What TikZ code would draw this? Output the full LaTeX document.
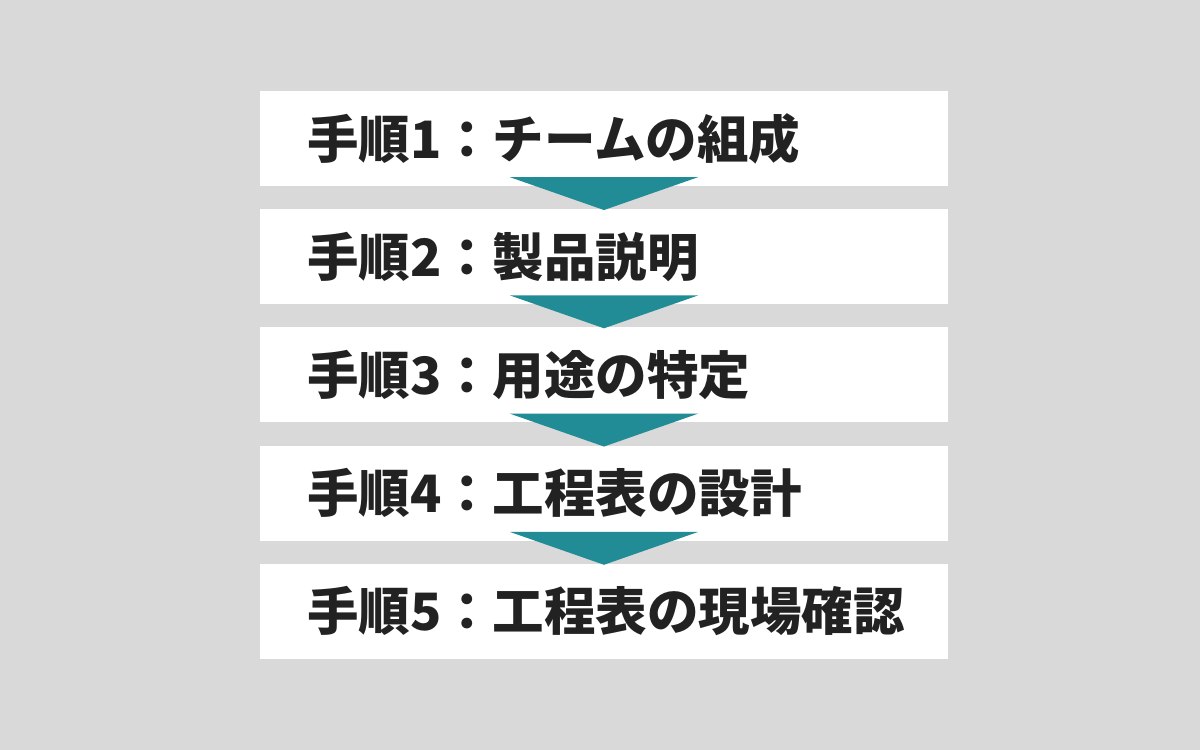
\documentclass[tikz,border=0pt]{standalone}
\usepackage{fontspec}
\setmainfont{Noto Sans CJK JP}
\usepackage{tikz}
\definecolor{bggray}{RGB}{217,217,217}
\definecolor{arrowteal}{RGB}{33,140,150}
\definecolor{textdark}{RGB}{34,34,34}

\begin{document}
\begin{tikzpicture}[x=1pt,y=1pt,
    stepbox/.style={fill=white, inner xsep=47pt, text width=594pt, minimum height=95pt, align=left, text=textdark, font=\fontsize{51.5}{60}\selectfont\bfseries},
    flowarrow/.style={fill=arrowteal}]
        \fill[bggray] (0,0) rectangle (1200,750);
        \node[stepbox] (s1) at (604,611.5) {手順1：チームの組成};
        \node[stepbox] (s2) at (604,493.25) {手順2：製品説明};
        \node[stepbox] (s3) at (604,375) {手順3：用途の特定};
        \node[stepbox] (s4) at (604,256.75) {手順4：工程表の設計};
        \node[stepbox] (s5) at (604,138.5) {手順5：工程表の現場確認};
        % arrows between the steps
        \fill[flowarrow] ([xshift=-94pt,yshift=9pt]s1.south) -- ([xshift=94pt,yshift=9pt]s1.south) -- ([yshift=-1pt]s2.north) -- cycle;
        \fill[flowarrow] ([xshift=-94pt,yshift=9pt]s2.south) -- ([xshift=94pt,yshift=9pt]s2.south) -- ([yshift=-1pt]s3.north) -- cycle;
        \fill[flowarrow] ([xshift=-94pt,yshift=9pt]s3.south) -- ([xshift=94pt,yshift=9pt]s3.south) -- ([yshift=-1pt]s4.north) -- cycle;
        \fill[flowarrow] ([xshift=-94pt,yshift=9pt]s4.south) -- ([xshift=94pt,yshift=9pt]s4.south) -- ([yshift=-1pt]s5.north) -- cycle;
    \end{tikzpicture}
\end{document}
